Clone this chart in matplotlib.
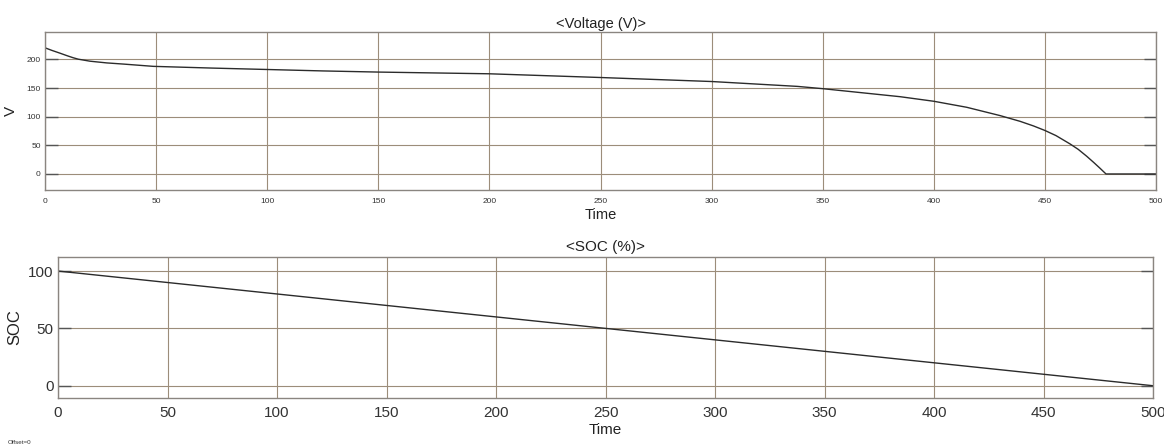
import matplotlib
matplotlib.use('Agg')
import matplotlib.pyplot as plt

plt.rcParams['font.family'] = ['Liberation Sans', 'DejaVu Sans']

# battery discharge: terminal voltage (V) against time
t_volt = [0, 3, 6.75, 10, 12.7, 15, 20.25, 27.8, 35.2, 48.7, 75, 100, 125, 150,
          200, 250, 300, 338.6, 350, 384.8, 400, 414.8, 429.8, 438.8, 444.8,
          450, 455, 461.3, 465, 468.8, 472, 474.8, 477.5, 500]
volt = [220.4, 216, 211, 206.5, 203, 200.5, 197, 194, 192, 188, 185, 182.5,
        180, 178, 175, 168.5, 161.5, 153, 149, 135, 127, 116.5, 102, 92, 84,
        76, 67, 52.5, 43, 31, 20, 10, 0, 0]

# state of charge (%) against time
t_soc = [0, 500]
soc = [100, 0]

volt_ticks = [0, 50, 100, 150, 200]
soc_ticks = [0, 50, 100]
time_ticks = [0, 50, 100, 150, 200, 250, 300, 350, 400, 450, 500]

GRID = '#9c8d7a'
SPINE = '#8a8580'
LINE = '#2b2b2b'
TXT = '#333333'

fig = plt.figure(figsize=(11.64, 4.47), dpi=100)
ax1 = fig.add_axes([45 / 1164, 1 - 190 / 447, 1111 / 1164, 158 / 447])
ax2 = fig.add_axes([58 / 1164, 1 - 398 / 447, 1095 / 1164, 141.3 / 447])


def style(ax, yticks, tick_size):
    ax.set_xlim(0, 500)
    ax.set_xticks(time_ticks)
    ax.set_yticks(yticks)
    ax.grid(True, color=GRID, linewidth=0.8)
    ax.tick_params(axis='y', direction='in', length=9, width=1.0, color='#555555',
                   right=True, labelsize=tick_size, labelcolor=TXT, pad=3)
    ax.tick_params(axis='x', length=0, labelsize=tick_size, labelcolor=TXT, pad=6)
    for s in ax.spines.values():
        s.set_color(SPINE)
        s.set_linewidth(1.0)


ax1.plot(t_volt, volt, color=LINE, linewidth=1.0)
style(ax1, volt_ticks, 6)
ax1.set_ylim(-28, 248)
ax1.set_title('<Voltage (V)>', fontsize=10.5, color='#222222', pad=3)
ax1.set_xlabel('Time', fontsize=10.5, color='#222222', labelpad=2)
ax1.set_ylabel('V', fontsize=11, color='#222222', labelpad=6)

ax2.plot(t_soc, soc, color=LINE, linewidth=1.0)
style(ax2, soc_ticks, 11)
ax2.set_ylim(-10.7, 112.5)
ax2.set_title('<SOC (%)>', fontsize=11, color='#222222', pad=4)
ax2.set_xlabel('Time', fontsize=11, color='#222222', labelpad=2)
ax2.set_ylabel('SOC', fontsize=12, color='#222222', labelpad=4)

fig.text(8 / 1164, 1 - 443 / 447, 'Offset=0', fontsize=4.5, color='#333333',
         va='center', ha='left')

fig.savefig('out.png', dpi=100, facecolor='white')
